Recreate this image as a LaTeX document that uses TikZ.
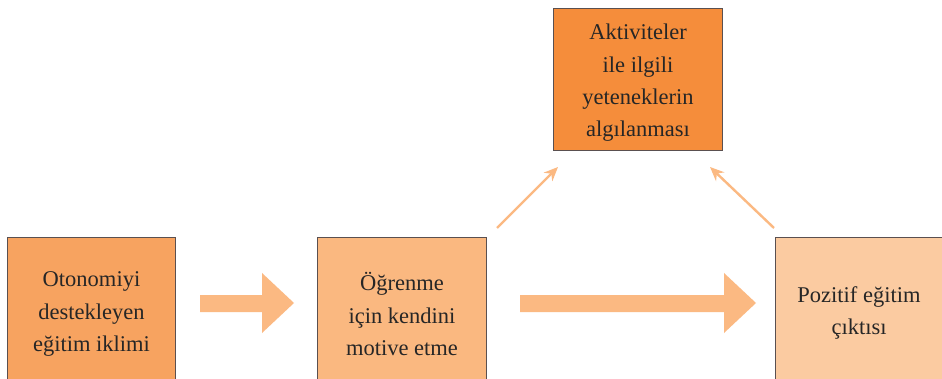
\documentclass[tikz,border=0pt]{standalone}
\usepackage{fontspec}
\setmainfont{Liberation Serif}
\usetikzlibrary{calc,arrows.meta}
\definecolor{boxA}{HTML}{F7A360}
\definecolor{boxB}{HTML}{FAB880}
\definecolor{boxC}{HTML}{F58D3B}
\definecolor{boxD}{HTML}{FBCBA1}
\definecolor{arrowc}{HTML}{FBB982}
\definecolor{edgec}{HTML}{5A5050}
\tikzset{
  boxshape/.style={draw=edgec, line width=1pt, inner sep=0pt, anchor=north west},
  boxtext/.style={align=center, text=black!85, font=\fontsize{22.5}{32.3}\selectfont, inner sep=0pt},
  fatarrow/.style={fill=arrowc, draw=none},
  thinarrow/.style={draw=arrowc, line width=2.4pt, -{Stealth[length=14pt, width=12pt]}},
}
\begin{document}
\begin{tikzpicture}[x=1pt, y=-1pt]
\useasboundingbox (0,0) rectangle (942,379);
\clip (0,0) rectangle (942,379);
\fill[white] (0,0) rectangle (942,379);
% boxes
\node[boxshape, fill=boxA, minimum width=168pt, minimum height=160pt] (A) at (7,237) {};
\node[boxshape, fill=boxB, minimum width=169pt, minimum height=160pt] (B) at (317,237) {};
\node[boxshape, fill=boxC, minimum width=169pt, minimum height=142pt] (C) at (553,8) {};
\node[boxshape, fill=boxD, minimum width=180pt, minimum height=160pt] (D) at (775,237) {};
% texts
\node[boxtext] (tA) at ($(A.north)+(0,77)$) {Otonomiyi\\destekleyen\\eğitim iklimi};
\node[boxtext] (tB) at ($(B.north)+(0,77)$) {Öğrenme\\için kendini\\motive etme};
\node[boxtext] (tC) at ($(C.center)+(0,3.5)$) {Aktiviteler\\ile ilgili\\yeteneklerin\\algılanması};
\node[boxtext] (tD) at ($(D.north west)+(84,76)$) {Pozitif eğitim\\çıktısı};
% fat arrows
\fill[fatarrow] ($(A.north east)+(24,58)$) -- ($(A.north east)+(86,58)$) -- ($(A.north east)+(86,36)$)
  -- ($(A.north east)+(118,66)$) -- ($(A.north east)+(86,96)$) -- ($(A.north east)+(86,75)$)
  -- ($(A.north east)+(24,75)$) -- cycle;
\fill[fatarrow] ($(B.north east)+(33,58)$) -- ($(D.north west)+(-51,58)$) -- ($(D.north west)+(-51,36)$)
  -- ($(D.north west)+(-19,66)$) -- ($(D.north west)+(-51,96)$) -- ($(D.north west)+(-51,75)$)
  -- ($(B.north east)+(33,75)$) -- cycle;
% thin arrows
\coordinate (s1) at ($(B.north east)+(10,-9)$);
\coordinate (e1) at ($(C.south west)+(5,16)$);
\coordinate (s2) at ($(D.north west)+(-1,-9)$);
\coordinate (e2) at ($(C.south east)+(-13,16)$);
\draw[thinarrow] (s1) -- (e1);
\draw[thinarrow] (s2) -- (e2);
\end{tikzpicture}
\end{document}
